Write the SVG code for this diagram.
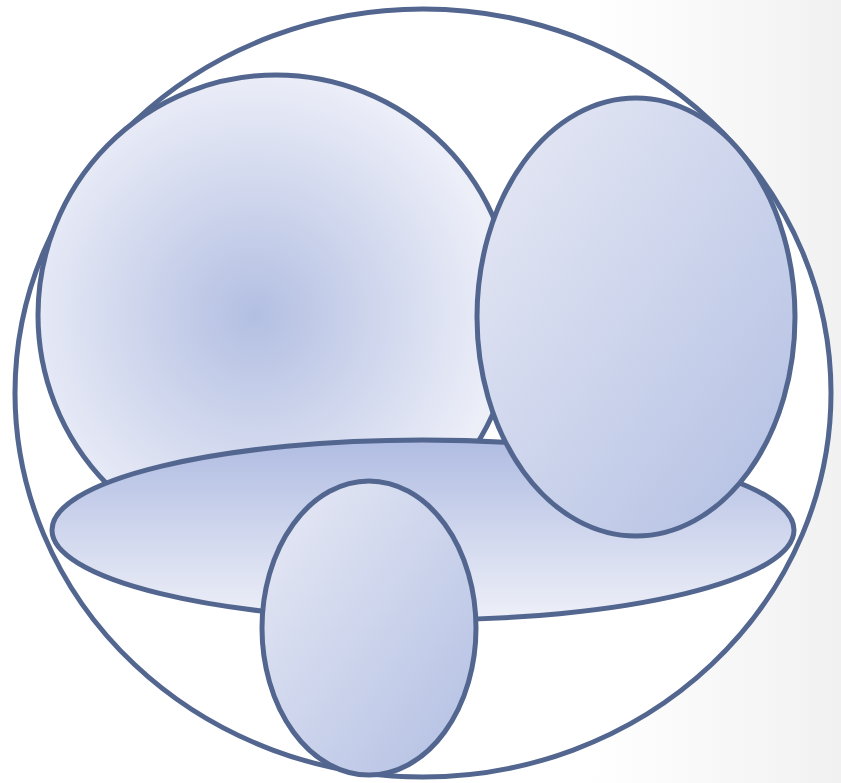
<svg xmlns="http://www.w3.org/2000/svg" width="841" height="783" viewBox="0 0 841 783">
<defs>
<linearGradient id="bg" x1="0" y1="0" x2="1" y2="0">
<stop offset="0.7" stop-color="#ffffff"/>
<stop offset="1" stop-color="#f1f1f1"/>
</linearGradient>
<radialGradient id="rg" cx="255" cy="315" r="245" gradientUnits="userSpaceOnUse">
<stop offset="0" stop-color="#b3bfe2"/>
<stop offset="1" stop-color="#eceef8"/>
</radialGradient>
<linearGradient id="lv" x1="0" y1="0" x2="0" y2="1">
<stop offset="0" stop-color="#b0bce2"/>
<stop offset="1" stop-color="#eef0f8"/>
</linearGradient>
<linearGradient id="ld" x1="0" y1="0" x2="1" y2="1">
<stop offset="0" stop-color="#e8eaf5"/>
<stop offset="1" stop-color="#b2bfe3"/>
</linearGradient>
<style>
.s{stroke:#52668f;stroke-width:5}
</style>
</defs>
<rect width="841" height="783" fill="url(#bg)"/>
<g id="outer"><ellipse class="s" cx="423" cy="393" rx="408" ry="384" fill="#ffffff"/></g>
<g id="left"><ellipse class="s" cx="276" cy="315" rx="238" ry="240" fill="url(#rg)"/></g>
<g id="bottom"><ellipse class="s" cx="423" cy="530" rx="371" ry="90" fill="url(#lv)"/></g>
<g id="right"><ellipse class="s" cx="636" cy="317" rx="159" ry="219" fill="url(#ld)"/></g>
<g id="small"><ellipse class="s" cx="369" cy="628" rx="107" ry="147" fill="url(#ld)"/></g>
<g id="connectors"></g>
</svg>
